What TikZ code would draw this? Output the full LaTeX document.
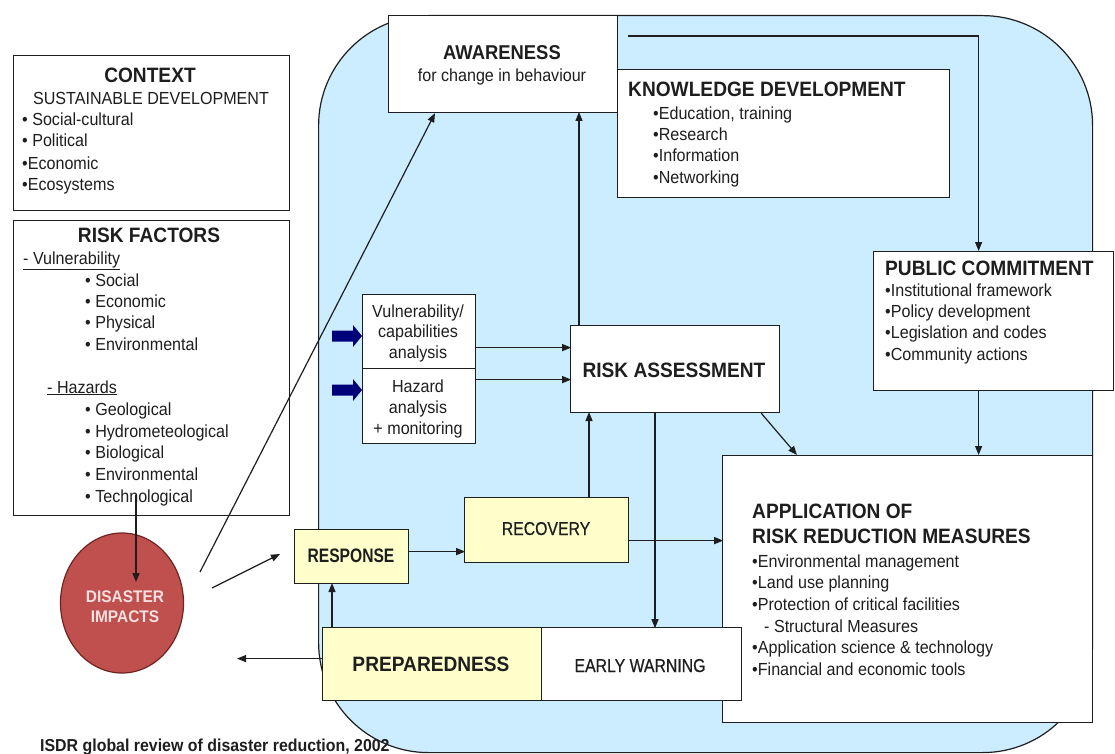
\documentclass[tikz,border=0pt]{standalone}
\usepackage{fontspec}
\setmainfont[FakeStretch=0.92]{Liberation Sans}
\newfontfamily\medfont[FakeStretch=0.85,FakeBold=0.6]{Liberation Sans}
\newfontfamily\respfont[FakeStretch=0.8]{Liberation Sans}
\usetikzlibrary{arrows.meta,calc,shapes.geometric}
\definecolor{bluebg}{HTML}{CCECFF}
\definecolor{yel}{HTML}{FFFFCC}
\definecolor{navyarr}{HTML}{00007A}
\definecolor{redimp}{HTML}{C0504D}
\definecolor{redline}{HTML}{6E2422}
\definecolor{impt}{HTML}{F6E0E0}
\definecolor{ink}{HTML}{1E1E1E}
\newcommand\bodyf{\fontsize{17.5}{21.5}\selectfont}
\newcommand\headf{\fontsize{20.8}{24}\selectfont\bfseries}
\newcommand\medf{\fontsize{18.6}{22}\selectfont\medfont}
\tikzset{
  box/.style={draw=ink, line width=1.2pt, fill=white, inner sep=0pt, anchor=north west},
  yelbox/.style={box, fill=yel},
  txt/.style={inner sep=0pt, anchor=base west, text=ink, font=\bodyf},
  ctxt/.style={txt, anchor=base},
  hd/.style={txt, font=\headf},
  chd/.style={hd, anchor=base},
  arr/.style={draw=ink, line width=1.2pt, -{Triangle[length=9pt,width=7pt]}},
  plain/.style={draw=ink, line width=1.2pt}
}
\begin{document}
\begin{tikzpicture}[x=1pt,y=-1pt]
\useasboundingbox (0,0) rectangle (1115,754);
% blue zone
\node[draw=ink, line width=1.2pt, fill=bluebg, rounded corners=110pt, inner sep=0pt,
      minimum width=774, minimum height=737, anchor=north west] (zone) at (318,15) {};
% boxes
\node[box, minimum width=276, minimum height=155] (ctx) at (13,55) {};
\node[box, minimum width=276, minimum height=295] (rf) at (13,220) {};
\node[box, minimum width=229, minimum height=97] (aw) at (388,15) {};
\node[box, minimum width=332, minimum height=128] (kd) at (617,69) {};
\node[box, minimum width=240, minimum height=139] (pc) at (873,251) {};
\node[box, minimum width=113, minimum height=74] (vul) at (362,294) {};
\node[box, minimum width=113, minimum height=75] (haz) at (362,368) {};
\node[box, minimum width=209, minimum height=87] (ra) at (570,325) {};
\node[yelbox, minimum width=114, minimum height=54] (resp) at (294,529) {};
\node[yelbox, minimum width=164, minimum height=65] (rec) at (464,497) {};
\node[box, minimum width=370, minimum height=267] (app) at (722,455) {};
\node[yelbox, minimum width=219, minimum height=73] (prep) at (322,627) {};
\node[box, minimum width=200, minimum height=73] (ew) at (541,627) {};
\node[ellipse, draw=redline, line width=1.2pt, fill=redimp, inner sep=0pt,
      minimum width=123, minimum height=140] (di) at (122,603) {};
% navy block arrows
\fill[navyarr] (332,330.5) -- (353,330.5) -- (353,325) -- (362,336) -- (353,347) -- (353,341.5) -- (332,341.5) -- cycle;
\fill[navyarr] (332,384.5) -- (353,384.5) -- (353,379) -- (362,390) -- (353,401) -- (353,395.5) -- (332,395.5) -- cycle;
% texts: context
\node[chd] (ctxh) at (150,83) {CONTEXT};
\node[ctxt] (ctxs) at (151,105) {SUSTAINABLE DEVELOPMENT};
\node[txt] (ctx1) at (22,126) {• Social-cultural};
\node[txt] (ctx2) at (22,147) {• Political};
\node[txt] (ctx3) at (22,169) {•Economic};
\node[txt] (ctx4) at (22,190) {•Ecosystems};
% risk factors
\node[chd] (rfh) at (149,242) {RISK FACTORS};
\node[txt] (rfv) at (23,264) {\underline{- Vulnerability}};
\node[txt] (rf1) at (85,286) {• Social};
\node[txt] (rf2) at (85,307) {• Economic};
\node[txt] (rf3) at (85,328) {• Physical};
\node[txt] (rf4) at (85,350) {• Environmental};
\node[txt] (rfz) at (47,393) {\underline{- Hazards}};
\node[txt] (rf5) at (85,415) {• Geological};
\node[txt] (rf6) at (85,437) {• Hydrometeological};
\node[txt] (rf7) at (85,458) {• Biological};
\node[txt] (rf8) at (85,480) {• Environmental};
\node[txt] (rf9) at (85,502) {• Technological};
% awareness
\node[chd, font=\fontsize{20}{24}\selectfont\bfseries] (awh) at (502,60) {AWARENESS};
\node[ctxt] (aws) at (502,82) {for change in behaviour};
% knowledge
\node[hd] (kdh) at (628,97) {KNOWLEDGE DEVELOPMENT};
\node[txt] (kd1) at (653,120) {•Education, training};
\node[txt] (kd2) at (653,141) {•Research};
\node[txt] (kd3) at (653,162) {•Information};
\node[txt] (kd4) at (653,183) {•Networking};
% public commitment
\node[hd] (pch) at (885,275) {PUBLIC COMMITMENT};
\node[txt] (pc1) at (885,296) {•Institutional framework};
\node[txt] (pc2) at (885,317) {•Policy development};
\node[txt] (pc3) at (885,338) {•Legislation and codes};
\node[txt] (pc4) at (885,360) {•Community actions};
% analysis boxes
\node[ctxt] (vul1) at (418,317) {Vulnerability/};
\node[ctxt] (vul2) at (418,337) {capabilities};
\node[ctxt] (vul3) at (418,358) {analysis};
\node[ctxt] (haz1) at (418,392) {Hazard};
\node[ctxt] (haz2) at (418,413) {analysis};
\node[ctxt] (haz3) at (418,434) {+ monitoring};
% risk assessment
\node[chd] (rah) at (674,377) {RISK ASSESSMENT};
% response, recovery, preparedness, early warning
\node[ctxt, font=\fontsize{19.5}{22}\selectfont\respfont\bfseries] (resph) at (351,562) {RESPONSE};
\node[ctxt, font=\medf] (rech) at (546,535) {RECOVERY};
\node[chd] (preph) at (431,671) {PREPAREDNESS};
\node[ctxt, font=\medf] (ewh) at (640,672) {EARLY WARNING};
% application
\node[hd] (apph1) at (752,518) {APPLICATION OF};
\node[hd] (apph2) at (752,543) {RISK REDUCTION MEASURES};
\node[txt] (app1) at (752,567) {•Environmental management};
\node[txt] (app2) at (752,588) {•Land use planning};
\node[txt] (app3) at (752,610) {•Protection of critical facilities};
\node[txt] (app4) at (764,632) {- Structural Measures};
\node[txt] (app5) at (752,653) {•Application science \& technology};
\node[txt] (app6) at (752,675) {•Financial and economic tools};
% disaster impacts
\node[ctxt, text=impt, font=\fontsize{16.8}{20}\selectfont\bfseries] (di1) at (125,602) {DISASTER};
\node[ctxt, text=impt, font=\fontsize{16.8}{20}\selectfont\bfseries] (di2) at (125,622) {IMPACTS};
% caption
\node[txt, font=\fontsize{17.3}{20}\selectfont\bfseries] (cap) at (40,751) {ISDR global review of disaster reduction, 2002};
% connectors
\coordinate (rfs) at (136,495);
\coordinate (dit) at (136,582);
\coordinate (dl) at (200,572);
\coordinate (d2) at (212,588);
\coordinate (d2e) at (280,554);
\draw[arr] (rfs) -- (dit);
\draw[arr] (dl) -- ([xshift=47]aw.south west);
\draw[arr] (d2) -- (d2e);
\draw[arr] ([xshift=10,yshift=-21]aw.north east) -| ([xshift=-15]pc.north);
\draw[arr] ([xshift=-15]pc.south) -- ([xshift=-15]pc.south |- app.north);
\draw[arr] ([yshift=-16]vul.east) -- +(95,0);
\draw[arr] ([yshift=26.5]haz.east) -- +(95,0);
\draw[arr] ([xshift=9]ra.north west) -- +(0,-213);
\draw[arr] ([xshift=85]ra.south west) -- +(0,215);
\draw[arr] ([xshift=-19]ra.south east) -- ([xshift=75]app.north west);
\draw[arr] ([xshift=125]rec.north west) -- +(0,-85);
\draw[arr] ([yshift=-10.5]rec.east) -- +(94,0);
\draw[arr] ([yshift=5]resp.east) -- +(56,0);
\draw[arr] ([xshift=10]prep.north west) -- +(0,-44);
\draw[arr] ([yshift=5.5]prep.west) -- +(-85,0);
\end{tikzpicture}
\end{document}
